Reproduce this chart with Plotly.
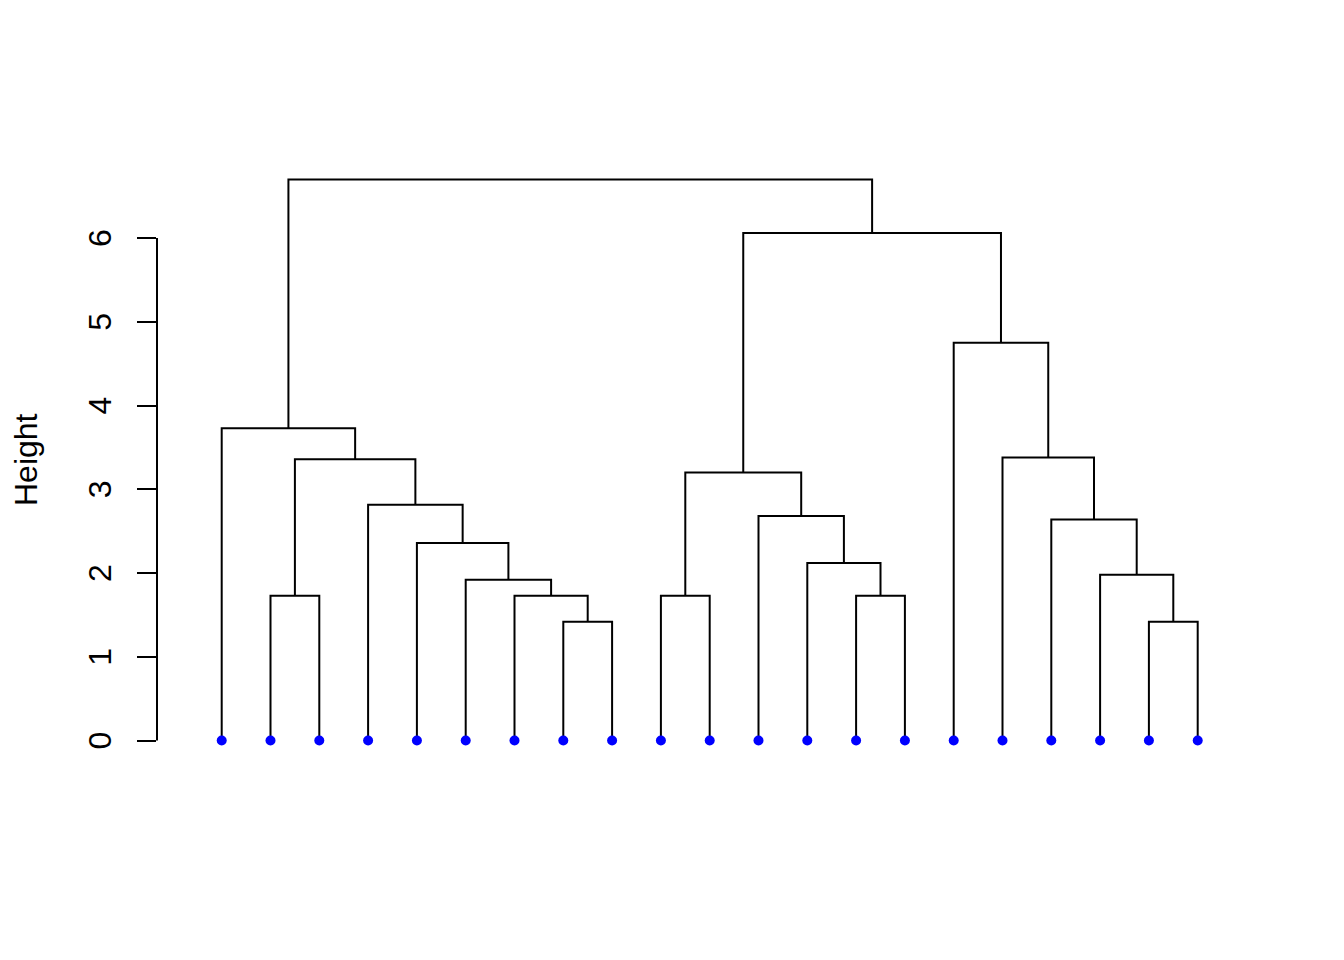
import plotly.graph_objects as go

# ---- data (R hclust-style merge table; negative = leaf index, positive = earlier merge) ----
n_leaves = 21
leaf_order = list(range(1, 22))
merge_left = [-8, -20, -2, -7, -10, -14, -6, -19, -13, -5, -18, -12, -4, 5, 3, -17, -1, -16, 14, 17]
merge_right = [-9, -21, -3, 1, -11, -15, 4, 2, 6, 7, 8, 9, 10, 12, 13, 11, 15, 16, 18, 19]
merge_height = [1.42, 1.42, 1.73, 1.73, 1.73, 1.73, 1.92, 1.98, 2.12, 2.36, 2.64, 2.68,
                2.815, 3.20, 3.36, 3.38, 3.73, 4.75, 6.06, 6.70]
y_ticks = [0, 1, 2, 3, 4, 5, 6]
y_tick_labels = ["0", "1", "2", "3", "4", "5", "6"]
y_title = "Height"

# ---- build dendrogram segments ----
leaf_pos = {leaf: i + 1 for i, leaf in enumerate(leaf_order)}
node_x, node_h = {}, {}


def child_xy(c):
    if c < 0:
        return leaf_pos[-c], 0.0
    return node_x[c], node_h[c]


xs, ys = [], []
for k, (a, b, h) in enumerate(zip(merge_left, merge_right, merge_height), start=1):
    xa, ha = child_xy(a)
    xb, hb = child_xy(b)
    xs += [xa, xa, xb, xb, None]
    ys += [ha, h, h, hb, None]
    node_x[k] = (xa + xb) / 2
    node_h[k] = h

fig = go.Figure()
fig.add_trace(go.Scatter(x=xs, y=ys, mode="lines", line=dict(color="black", width=2),
                         hoverinfo="skip", showlegend=False))
fig.add_trace(go.Scatter(x=[leaf_pos[l] for l in leaf_order], y=[0] * n_leaves, mode="markers",
                         marker=dict(color="#0000FF", size=10, line=dict(width=0)),
                         showlegend=False))

# page body has an 8px offset; margins compensate so the plot area lands where the reference has it
L, R, T, B = 149, 70, 149, 204.5
W = 1344 - L - R
px_per_leaf = 48.8
x0 = 1 - (221.7 - 157) / px_per_leaf
x1 = x0 + W / px_per_leaf

# axis line from first to last tick
fig.add_shape(type="line", xref="paper", yref="y", x0=0, x1=0, y0=y_ticks[0], y1=y_ticks[-1],
              line=dict(color="black", width=2))

# tick labels, rotated and centred on their ticks (as R draws them)
for v, lab in zip(y_ticks, y_tick_labels):
    fig.add_annotation(text=lab, xref="paper", yref="y", x=0, y=v, xshift=-57,
                       textangle=-90, showarrow=False, xanchor="center", yanchor="middle",
                       font=dict(family="Liberation Sans, Arial", size=32, color="black"))

fig.add_annotation(text=y_title, xref="paper", yref="paper", x=(26 - 157) / W, y=0.5,
                   textangle=-90, showarrow=False, xanchor="center", yanchor="middle",
                   font=dict(family="Liberation Sans, Arial", size=32, color="black"))

fig.update_xaxes(range=[x0, x1], visible=False)
fig.update_yaxes(range=[-0.268, 6.968], tickvals=y_ticks, showticklabels=False,
                 ticks="outside", ticklen=19, tickwidth=2, tickcolor="black",
                 showline=False, showgrid=False, zeroline=False)

fig.update_layout(width=1344, height=960, margin=dict(l=L, r=R, t=T, b=B, autoexpand=False),
                  plot_bgcolor="white", paper_bgcolor="white")

fig.write_html("out.html")
